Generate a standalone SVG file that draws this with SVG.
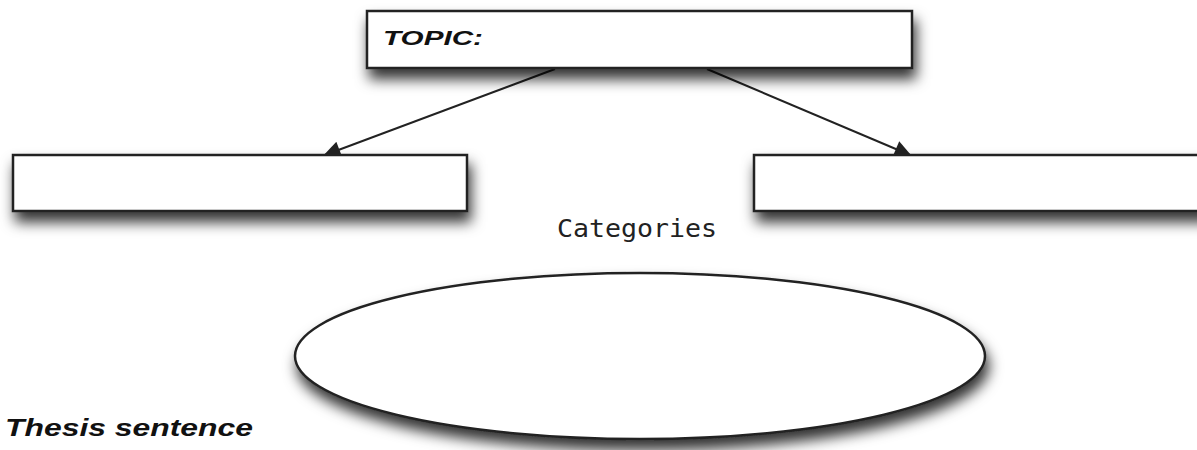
<svg xmlns="http://www.w3.org/2000/svg" width="1197" height="450" viewBox="0 0 1197 450">
<style>
.box{fill:#fff;stroke:#222;stroke-width:2.5;filter:url(#sh)}
.lbl{font-family:"Liberation Sans",Arial,sans-serif;font-weight:bold;font-style:italic;fill:#111}
.cat{font-family:"DejaVu Sans Mono",monospace;fill:#222}
</style>
<defs>
<filter id="sh" x="-10%" y="-30%" width="125%" height="190%">
<feDropShadow dx="3" dy="10" stdDeviation="7" flood-color="#000" flood-opacity="0.8"/>
</filter>
<marker id="ah2" viewBox="0 0 10 10" refX="9" refY="5" markerWidth="22" markerHeight="17" markerUnits="userSpaceOnUse" orient="auto">
<path d="M0,0 L10,5 L0,10 Z" fill="#222"/>
</marker>
</defs>
<rect width="1197" height="450" fill="#fff"/>
<g id="connectors">
<line x1="555" y1="69" x2="325" y2="155" stroke="#222" stroke-width="2" marker-end="url(#ah2)"/>
<line x1="707" y1="69" x2="910" y2="155" stroke="#222" stroke-width="2" marker-end="url(#ah2)"/>
</g>
<g id="topic">
<rect class="box" x="367" y="11" width="545" height="57"/>
<text class="lbl" x="383" y="45" font-size="21" textLength="100" lengthAdjust="spacingAndGlyphs">TOPIC:</text>
</g>
<g id="left">
<rect class="box" x="13" y="155" width="454" height="56"/>
</g>
<g id="right">
<rect class="box" x="754" y="155" width="460" height="56"/>
</g>
<g id="categories">
<text class="cat" x="557" y="237" font-size="25" textLength="160" lengthAdjust="spacingAndGlyphs">Categories</text>
</g>
<g id="thesis">
<ellipse class="box" cx="640" cy="356" rx="345" ry="83"/>
<text class="lbl" x="5" y="436" font-size="24" textLength="248" lengthAdjust="spacingAndGlyphs">Thesis sentence</text>
</g>
</svg>
